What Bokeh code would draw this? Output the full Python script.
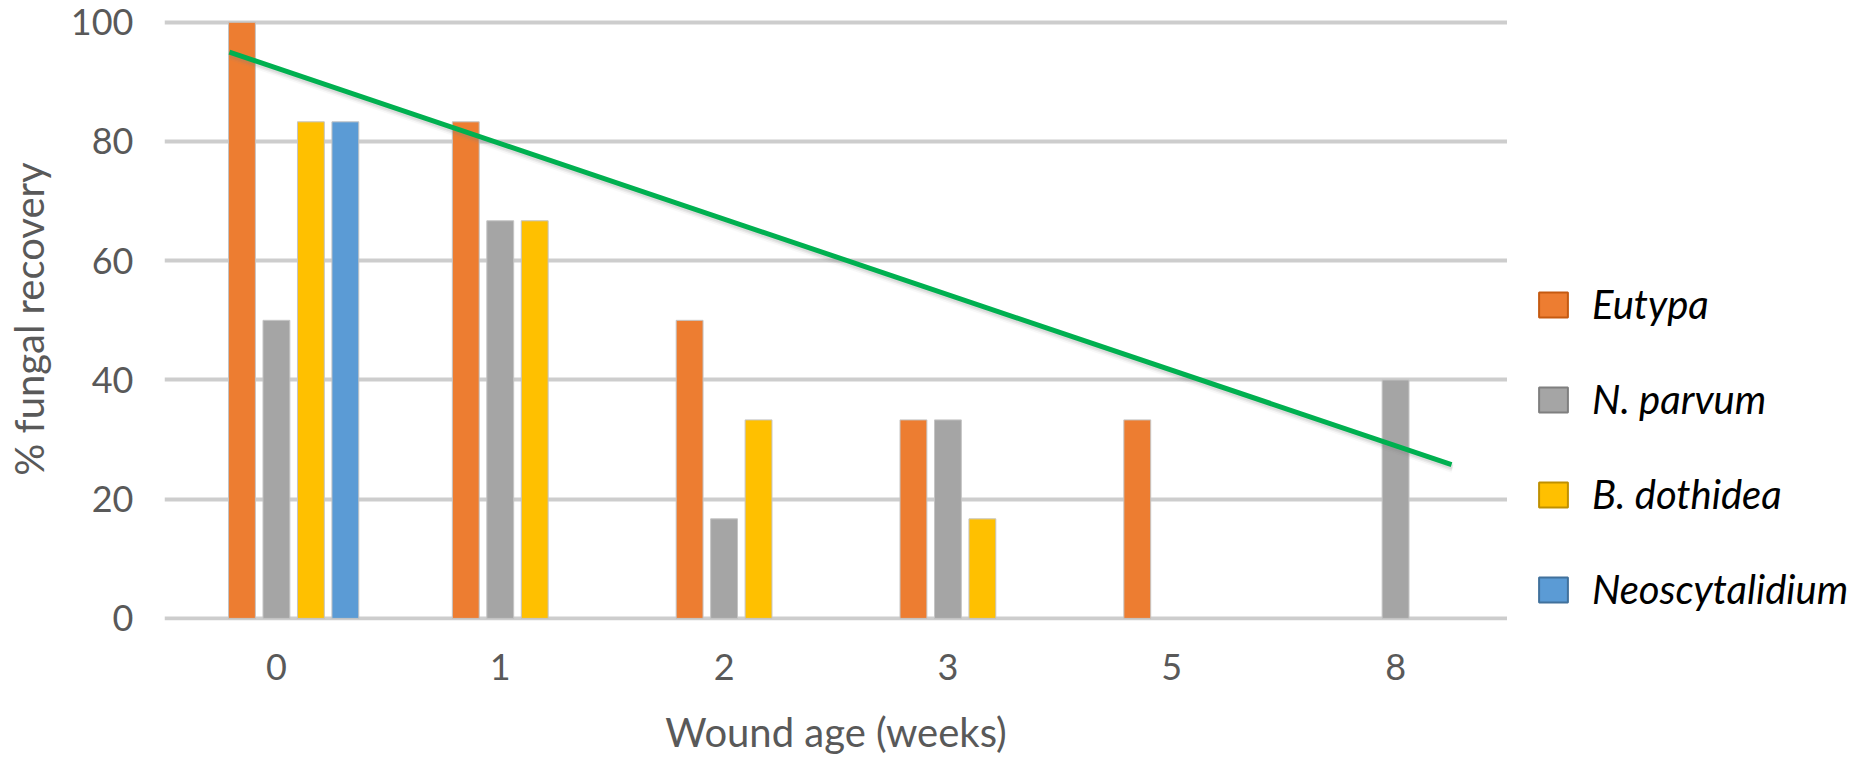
from bokeh.plotting import figure
from bokeh.layouts import row
from bokeh.models import (ColumnDataSource, Range1d, FixedTicker, Legend, LegendItem)
from bokeh.embed import file_html
from bokeh.resources import INLINE

# ---- data -------------------------------------------------------------
weeks = ["0", "1", "2", "3", "5", "8"]
eutypa = [100, 83.3, 50, 33.3, 33.3, 0]
n_parvum = [50, 66.7, 16.7, 33.3, 0, 40]
b_dothidea = [83.3, 66.7, 33.3, 16.7, 0, 0]
neoscytalidium = [83.3, 0, 0, 0, 0, 0]
series_names = ["Eutypa", "N. parvum", "B. dothidea", "Neoscytalidium"]
y_ticks = [0, 20, 40, 60, 80, 100]

# linear trend of recovery against wound age (category position, %)
trend_x = [-0.21, 5.25]
trend_y = [95.0, 25.8]

# ---- styling ----------------------------------------------------------
fills = ["#ed7d31", "#a5a5a5", "#ffc000", "#5b9bd5"]
edges = ["#c55a11", "#7f7f7f", "#bf9000", "#41719c"]
slot_offsets = [-0.154, 0.0, 0.154, 0.308]
bar_width = 0.12
FONT = "Lato"
TXT = "#595959"

n_cat = len(weeks)

# ---- main chart -------------------------------------------------------
p = figure(width=1507, height=758, output_backend="svg", toolbar_location=None,
           x_range=Range1d(-0.5, n_cat - 0.5), y_range=Range1d(-0.35, 100.8),
           min_border_left=164, min_border_right=0,
           min_border_top=17, min_border_bottom=134)
p.outline_line_color = None
p.background_fill_color = "white"
p.border_fill_color = "white"
p.xgrid.grid_line_color = None
p.ygrid.ticker = FixedTicker(ticks=y_ticks)
p.ygrid.grid_line_color = "#cdcdcd"
p.ygrid.grid_line_width = 4

# y axis
p.yaxis.ticker = FixedTicker(ticks=y_ticks)
p.yaxis.axis_line_color = None
p.yaxis.major_tick_line_color = None
p.yaxis.minor_tick_line_color = None
p.yaxis.major_tick_in = 0
p.yaxis.major_tick_out = 0
p.yaxis.major_label_standoff = 31
p.yaxis.major_label_text_font = FONT
p.yaxis.major_label_text_font_size = "36px"
p.yaxis.major_label_text_color = TXT
p.yaxis.axis_label = "% fungal recovery"
p.yaxis.axis_label_text_font = FONT
p.yaxis.axis_label_text_font_style = "normal"
p.yaxis.axis_label_text_font_size = "40px"
p.yaxis.axis_label_text_color = TXT
p.yaxis.axis_label_standoff = 15

# x axis: one tick per wound age
p.xaxis.ticker = FixedTicker(ticks=list(range(n_cat)))
p.xaxis.major_label_overrides = {i: w for i, w in enumerate(weeks)}
p.xaxis.axis_line_color = None
p.xaxis.major_tick_line_color = None
p.xaxis.minor_tick_line_color = None
p.xaxis.major_tick_in = 0
p.xaxis.major_tick_out = 0
p.xaxis.major_label_standoff = 33
p.xaxis.major_label_text_font = FONT
p.xaxis.major_label_text_font_size = "36px"
p.xaxis.major_label_text_color = TXT
p.xaxis.axis_label = "Wound age (weeks)"
p.xaxis.axis_label_text_font = FONT
p.xaxis.axis_label_text_font_style = "normal"
p.xaxis.axis_label_text_font_size = "40px"
p.xaxis.axis_label_text_color = TXT
p.xaxis.axis_label_standoff = 25

# ---- key panel beside the chart ----------------------------------------
k = figure(width=361, height=758, output_backend="svg", toolbar_location=None,
           x_range=Range1d(0, 1), y_range=Range1d(0, 1),
           min_border_left=0, min_border_right=0,
           min_border_top=0, min_border_bottom=0)
k.axis.visible = False
k.grid.visible = False
k.outline_line_color = None
k.background_fill_color = "white"
k.border_fill_color = "white"

# clustered bars
all_series = [eutypa, n_parvum, b_dothidea, neoscytalidium]
legend_items = []
for name, vals, fc, ec, off in zip(series_names, all_series, fills, edges, slot_offsets):
    xs = [i + off for i, v in enumerate(vals) if v > 0]
    ys = [v for v in vals if v > 0]
    src = ColumnDataSource(dict(x=xs, top=ys))
    p.vbar(x="x", top="top", bottom=0, width=bar_width, source=src,
           fill_color=fc, line_color="#c4c4c4", line_width=1)
    # swatch-only renderer for the key (hidden, outlined in a darker tone)
    key = k.vbar(x="x", top="top", bottom=0, width=bar_width, source=src,
                 fill_color=fc, line_color=ec, line_width=2, visible=False)
    legend_items.append(LegendItem(label=name, renderers=[key]))

# trend line with a soft drop shadow
for dk, a in [(0.9, 0.06), (0.6, 0.10), (0.35, 0.14)]:
    p.line([x + 0.004 for x in trend_x], [y - dk for y in trend_y],
           line_color="#808080", line_alpha=a, line_width=6)
p.line(trend_x, trend_y, line_color="#00b050", line_width=5)

legend = Legend(items=legend_items, location=(28, 7),
                orientation="vertical",
                glyph_width=36, glyph_height=31, label_height=31,
                label_standoff=21, spacing=47, padding=0, margin=0,
                label_text_font=FONT, label_text_font_style="italic",
                label_text_font_size="40px", label_text_color="#000000",
                inactive_fill_alpha=0,
                border_line_color=None, background_fill_alpha=0)
k.add_layout(legend)

layout = row(p, k, spacing=0)
open("out.html", "w").write(file_html(layout, INLINE))
